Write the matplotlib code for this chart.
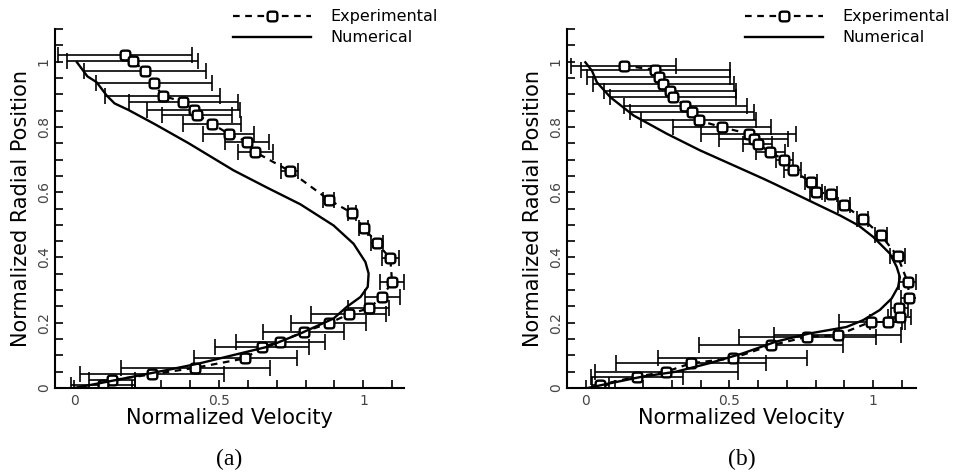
import numpy as np
import matplotlib
matplotlib.use("Agg")
import matplotlib.pyplot as plt
from matplotlib.ticker import MultipleLocator

plt.rcParams['font.family'] = ['DejaVu Sans']

# panel (a) - experimental
exp_a_vel = [0.176, 0.202, 0.246, 0.275, 0.306, 0.378, 0.413, 0.425, 0.476, 0.534, 0.597, 0.626,
             0.745, 0.880, 0.961, 1.001, 1.047, 1.093, 1.099, 1.065, 1.018, 0.949, 0.880, 0.793,
             0.713, 0.649, 0.592, 0.419, 0.269, 0.130, 0.100]
exp_a_pos = [1.021, 1.001, 0.972, 0.934, 0.896, 0.876, 0.852, 0.838, 0.810, 0.779, 0.755, 0.723,
             0.665, 0.577, 0.536, 0.491, 0.444, 0.397, 0.325, 0.279, 0.244, 0.226, 0.198, 0.172,
             0.142, 0.126, 0.091, 0.062, 0.042, 0.024, 0.010]
exp_a_err = [0.230, 0.228, 0.210, 0.200, 0.200, 0.188, 0.160, 0.120, 0.100, 0.087, 0.075, 0.060,
             0.030, 0.020, 0.015, 0.015, 0.020, 0.030, 0.040, 0.060, 0.070, 0.130, 0.130, 0.140,
             0.155, 0.163, 0.177, 0.258, 0.250, 0.080, 0.110]

# panel (a) - numerical
num_a_vel = [0.010, 0.046, 0.078, 0.113, 0.140, 0.188, 0.280, 0.396, 0.551, 0.667, 0.782,
             0.897, 0.966, 1.007, 1.018, 1.015, 0.990, 0.943, 0.897, 0.782, 0.667, 0.551, 0.436,
             0.321, 0.205, 0.090, 0.000]
num_a_pos = [0.998, 0.955, 0.937, 0.896, 0.872, 0.852, 0.808, 0.750, 0.667, 0.614, 0.563,
             0.498, 0.442, 0.386, 0.351, 0.310, 0.279, 0.249, 0.213, 0.167, 0.126, 0.101, 0.076,
             0.055, 0.035, 0.015, 0.000]

# panel (b) - experimental
exp_b_vel = [0.131, 0.242, 0.253, 0.270, 0.294, 0.303, 0.346, 0.369, 0.393, 0.474, 0.567, 0.584,
             0.598, 0.642, 0.691, 0.720, 0.784, 0.801, 0.854, 0.900, 0.964, 1.028, 1.086, 1.121,
             1.127, 1.092, 1.094, 1.051, 0.993, 0.877, 0.772, 0.645, 0.511, 0.366, 0.280, 0.178,
             0.050]
exp_b_pos = [0.988, 0.975, 0.952, 0.932, 0.911, 0.891, 0.865, 0.845, 0.820, 0.799, 0.779, 0.764,
             0.748, 0.723, 0.699, 0.667, 0.631, 0.600, 0.595, 0.560, 0.519, 0.468, 0.404, 0.325,
             0.277, 0.244, 0.218, 0.203, 0.203, 0.162, 0.157, 0.131, 0.091, 0.076, 0.050, 0.035,
             0.010]
exp_b_err = [0.182, 0.260, 0.250, 0.245, 0.230, 0.220, 0.215, 0.215, 0.200, 0.170, 0.165, 0.120,
             0.050, 0.050, 0.030, 0.030, 0.020, 0.020, 0.020, 0.020, 0.020, 0.020, 0.025, 0.030,
             0.030, 0.030, 0.040, 0.060, 0.110, 0.220, 0.240, 0.250, 0.260, 0.260, 0.250, 0.160,
             0.030]

# panel (b) - numerical
num_b_vel = [-0.002, 0.021, 0.038, 0.085, 0.166, 0.282, 0.398, 0.515, 0.619, 0.653, 0.769, 0.885,
             0.950, 1.001, 1.059, 1.083, 1.094, 1.088, 1.065, 1.024, 0.966, 0.908, 0.778, 0.662,
             0.546, 0.430, 0.314, 0.197, 0.081, 0.006]
num_b_pos = [0.998, 0.972, 0.937, 0.891, 0.835, 0.779, 0.728, 0.682, 0.641, 0.627, 0.578, 0.529,
             0.498, 0.463, 0.412, 0.371, 0.340, 0.310, 0.274, 0.239, 0.208, 0.187, 0.167, 0.142,
             0.106, 0.076, 0.050, 0.035, 0.014, 0.000]

panels = [
    ("(a)", exp_a_vel, exp_a_pos, exp_a_err, num_a_vel, num_a_pos, 1.14),
    ("(b)", exp_b_vel, exp_b_pos, exp_b_err, num_b_vel, num_b_pos, 1.15),
]

# rounded square marker
t = np.linspace(0, 2 * np.pi, 41)
mk = np.column_stack([np.sign(np.cos(t)) * np.abs(np.cos(t)) ** 0.45,
                      np.sign(np.sin(t)) * np.abs(np.sin(t)) ** 0.45])

fig = plt.figure(figsize=(9.56, 4.74), dpi=100)
lefts = [0.0575, 0.5931]

for left, (cap, ev, ep, ee, nv, npos, xmax) in zip(lefts, panels):
    ax = fig.add_axes([left, 0.1814, 0.365, 0.7574])
    ax.errorbar(ev, ep, xerr=ee, fmt='none', ecolor='black', elinewidth=1.2,
                capsize=5.5, capthick=1.2)
    ax.plot(ev, ep, color='black', lw=1.6, dashes=(3, 2.5), marker=mk,
            markersize=7, markerfacecolor='white', markeredgecolor='black',
            markeredgewidth=1.7, label='Experimental')
    ax.plot(nv, npos, color='black', lw=1.7, label='Numerical')

    ax.set_xlim(-0.066, xmax)
    ax.set_ylim(0, 1.1)
    ax.spines['top'].set_visible(False)
    ax.spines['right'].set_visible(False)
    ax.spines['left'].set_linewidth(1.5)
    ax.spines['bottom'].set_linewidth(1.5)

    ax.xaxis.set_minor_locator(MultipleLocator(0.1))
    ax.yaxis.set_minor_locator(MultipleLocator(0.05))
    ax.set_xticks([0, 0.5, 1])
    ax.set_xticklabels(['0', '0.5', '1'])
    ax.set_yticks([0, 0.2, 0.4, 0.6, 0.8, 1.0])
    ax.set_yticklabels(['0', '0.2', '0.4', '0.6', '0.8', '1'])
    ax.tick_params(which='both', direction='in', length=6, width=1.2, colors='black')
    ax.tick_params(axis='x', which='major', labelsize=10, pad=4, labelcolor='#444444')
    ax.tick_params(axis='y', which='major', labelsize=10, pad=3, labelcolor='#444444',
                   labelrotation=90)
    for lbl in ax.get_yticklabels():
        lbl.set_va('center')

    ax.set_xlabel('Normalized Velocity', fontsize=15, labelpad=0)
    ax.set_ylabel('Normalized Radial Position', fontsize=15, labelpad=4)

    ax.legend(loc='upper left', bbox_to_anchor=(0.51, 1.055), frameon=False,
              fontsize=11.5, handlelength=4.9, handletextpad=1.2, labelspacing=0.38,
              borderpad=0, borderaxespad=0)

    ax.text(0.5, -0.2, cap, transform=ax.transAxes, ha='center', va='center',
            fontsize=17, family='Liberation Serif')

fig.savefig('out.png', dpi=100)
